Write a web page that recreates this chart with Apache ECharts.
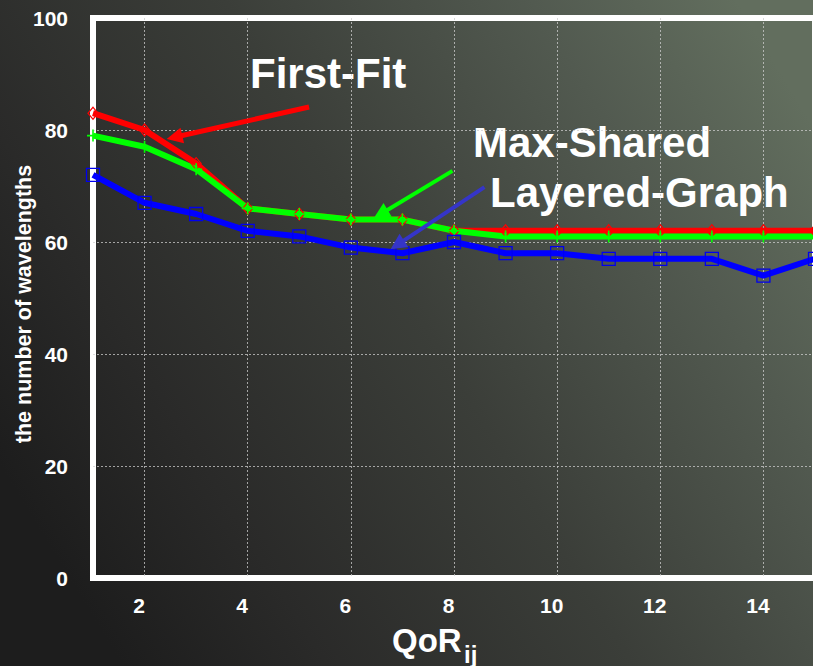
<!DOCTYPE html>
<html><head><meta charset="utf-8">
<script src="https://cdn.jsdelivr.net/npm/echarts@6/dist/echarts.min.js"></script>
<style>
html,body{margin:0;padding:0;overflow:hidden;background:#2a2a2a;width:813px;height:666px}
#c{width:818px;height:666px}
</style>
</head><body><div id="c"></div>
<script>
// ---- data ----
const qor = [1, 2, 3, 4, 5, 6, 7, 8, 9, 10, 11, 12, 13, 14, 15];
const firstFit     = [83, 80, 74, 66, 65, 64, 64, 62, 62, 62, 62, 62, 62, 62, 62];
const maxShared    = [79, 77, 73, 66, 65, 64, 64, 62, 61, 61, 61, 61, 61, 61, 61];
const layeredGraph = [72, 67, 65, 62, 61, 59, 58, 60, 58, 58, 57, 57, 57, 54, 57];
const yTicks = [0, 20, 40, 60, 80, 100];
const xTickLabels = [2, 4, 6, 8, 10, 12, 14];

// annotation arrows (data coordinates: [start, end])
const arrowFirstFit = [[5.19, 84.1], [2.58, 78.7]];
const arrowMaxShared = [[7.97, 72.7], [6.58, 65.0]];
const arrowLayered = [[8.59, 69.8], [6.90, 59.5]];

const FONT = "'Liberation Sans', Arial, sans-serif";
const chart = echarts.init(document.getElementById('c'), null, {renderer: 'svg'});

function arrow(pts, color, width) {
  return {
    silent: true,
    symbol: ['none', 'triangle'],
    symbolSize: 16,
    label: {show: false},
    lineStyle: {color: color, width: width, type: 'solid', opacity: 1},
    emphasis: {disabled: true},
    data: [[{coord: pts[0]}, {coord: pts[1]}]]
  };
}

const gray = 'rgba(205,205,205,0.75)';
const clear = 'rgba(0,0,0,0)';

chart.setOption({
  animation: false,
  backgroundColor: {
    type: 'linear', x: 0, y: 0.7, x2: 1, y2: 0.2,
    colorStops: [
      {offset: 0, color: '#1d1d1d'},
      {offset: 0.2, color: '#2a2a29'},
      {offset: 0.5, color: '#3b3e39'},
      {offset: 0.8, color: '#525a50'},
      {offset: 1, color: '#626e5e'}
    ]
  },
  grid: {
    show: true, left: 93, right: 0, top: 18, bottom: 88,
    borderColor: '#ffffff', borderWidth: 6, backgroundColor: 'transparent'
  },
  xAxis: {
    type: 'value', min: 1, max: 15, interval: 1,
    axisLine: {show: false},
    axisTick: {show: false},
    axisLabel: {
      color: '#fff', fontFamily: FONT, fontWeight: 'bold', fontSize: 21,
      margin: 17, padding: [0, 11, 0, 0],
      formatter: v => xTickLabels.indexOf(v) >= 0 ? String(v) : ''
    },
    splitLine: {show: true, lineStyle: {color: [clear, gray], width: 1, type: [2, 2]}}
  },
  yAxis: {
    type: 'value', min: 0, max: 100, interval: 20,
    axisLine: {show: false},
    axisTick: {show: false},
    axisLabel: {
      color: '#fff', fontFamily: FONT, fontWeight: 'bold', fontSize: 21, margin: 25,
      formatter: v => yTicks.indexOf(v) >= 0 ? String(v) : ''
    },
    splitLine: {show: true, lineStyle: {color: [clear, gray, gray, gray, gray, clear], width: 1, type: [2, 2]}}
  },
  series: [
    {
      name: 'First-Fit', type: 'line', data: qor.map((x, i) => [x, firstFit[i]]),
      symbol: 'diamond', symbolSize: [10, 12], showAllSymbol: true,
      itemStyle: {color: clear, borderColor: '#ff0000', borderWidth: 1.2},
      lineStyle: {color: '#ff0000', width: 6},
      markLine: arrow(arrowFirstFit, '#ff0000', 5)
    },
    {
      name: 'Max-Shared', type: 'line', data: qor.map((x, i) => [x, maxShared[i]]),
      symbol: 'path://M5.2,0h1.6v12h-1.6zM0,5.2h12v1.6h-12z', symbolSize: 12, showAllSymbol: true,
      itemStyle: {color: '#00ff00', borderWidth: 0},
      lineStyle: {color: '#00ff00', width: 6},
      markLine: arrow(arrowMaxShared, '#00ff00', 4)
    },
    {
      name: 'Layered-Graph', type: 'line', data: qor.map((x, i) => [x, layeredGraph[i]]),
      symbol: 'rect', symbolSize: 13, showAllSymbol: true,
      itemStyle: {color: clear, borderColor: '#0000ee', borderWidth: 1.3},
      lineStyle: {color: '#0000ff', width: 6},
      markLine: arrow(arrowLayered, '#3535c8', 4)
    }
  ],
  graphic: [
    {type: 'text', x: 250, y: 73, style: {text: 'First-Fit', fill: '#fff', font: 'bold 42px ' + FONT, align: 'left', verticalAlign: 'middle'}},
    {type: 'text', x: 473, y: 142, style: {text: 'Max-Shared', fill: '#fff', font: 'bold 42px ' + FONT, align: 'left', verticalAlign: 'middle'}},
    {type: 'text', x: 490, y: 192, style: {text: 'Layered-Graph', fill: '#fff', font: 'bold 42px ' + FONT, align: 'left', verticalAlign: 'middle'}},
    {type: 'text', x: 24, y: 304, rotation: Math.PI / 2, style: {text: 'the number of wavelengths', fill: '#fff', font: 'bold 21.5px ' + FONT, align: 'center', verticalAlign: 'middle'}},
    {type: 'text', x: 392, y: 640, style: {text: 'QoR', fill: '#fff', font: 'bold 33px ' + FONT, align: 'left', verticalAlign: 'middle'}},
    {type: 'text', x: 464, y: 654, style: {text: 'ij', fill: '#fff', font: 'bold 24px ' + FONT, align: 'left', verticalAlign: 'middle'}}
  ]
});
</script>
</body></html>
